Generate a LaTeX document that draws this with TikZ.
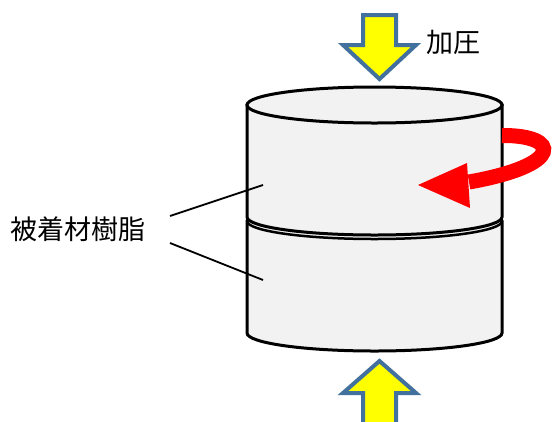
\documentclass[tikz,border=0pt]{standalone}
\usepackage{fontspec}
\usepackage{xcolor}
\usepackage{tikz}
\newfontfamily\jpfont{Noto Sans CJK JP}
\definecolor{PRBody}{HTML}{F2F2F2}
\definecolor{PRYellow}{HTML}{FFFF00}
\definecolor{PRBlue}{HTML}{41719C}
\definecolor{PRRed}{HTML}{FF0000}
\tikzset{
  prlabel/.style={anchor=west,inner sep=0pt,font=\jpfont\fontsize{27}{27}\selectfont},
  prarrow/.style={fill=PRYellow,draw=PRBlue,line width=4pt,line join=miter},
  cylline/.style={draw=black,line width=3pt,fill=PRBody},
}

\begin{document}
\begin{tikzpicture}[x=1pt,y=1pt]
\path[use as bounding box] (0,0) rectangle (553,-421);
% lower half
\filldraw[cylline] (247,-221) -- (247,-333) arc[start angle=180,end angle=360,x radius=127.5,y radius=18] -- (502,-221) arc[start angle=0,end angle=180,x radius=127.5,y radius=18] -- cycle;
\draw[line width=2.5pt] (247,-221) arc[start angle=180,end angle=360,x radius=127.5,y radius=18];
% upper half
\filldraw[cylline] (247,-105) -- (247,-217) arc[start angle=180,end angle=360,x radius=127.5,y radius=18] -- (502,-105) -- cycle;
\filldraw[cylline] (374.5,-105) ellipse[x radius=127.5,y radius=18];
% rotation
\draw[PRRed,line width=15pt] (502,-135.5) .. controls (560,-135) and (565,-165) .. (469,-182);
\fill[PRRed,line join=round] (418,-185) -- (467,-163) -- (470,-208) -- cycle;
% pressing arrows
\filldraw[prarrow] (363,-15) -- (396,-15) -- (396,-45) -- (416,-45) -- (379.5,-79) -- (343,-45) -- (363,-45) -- cycle;
\filldraw[prarrow] (363,-430) -- (396,-430) -- (396,-393) -- (416,-393) -- (379.5,-361) -- (343,-393) -- (363,-393) -- cycle;
% labels
\node[prlabel] (press) at (426,-42) {加圧};
\node[prlabel] (resin) at (10,-229) {被着材樹脂};
\coordinate (leadA) at (170,-216);
\coordinate (leadB) at (170,-243);
\coordinate (upper) at (263,-185);
\coordinate (lower) at (263,-280);
\draw[line width=1.8pt] (leadA) -- (upper);
\draw[line width=1.8pt] (leadB) -- (lower);
\end{tikzpicture}
\end{document}
